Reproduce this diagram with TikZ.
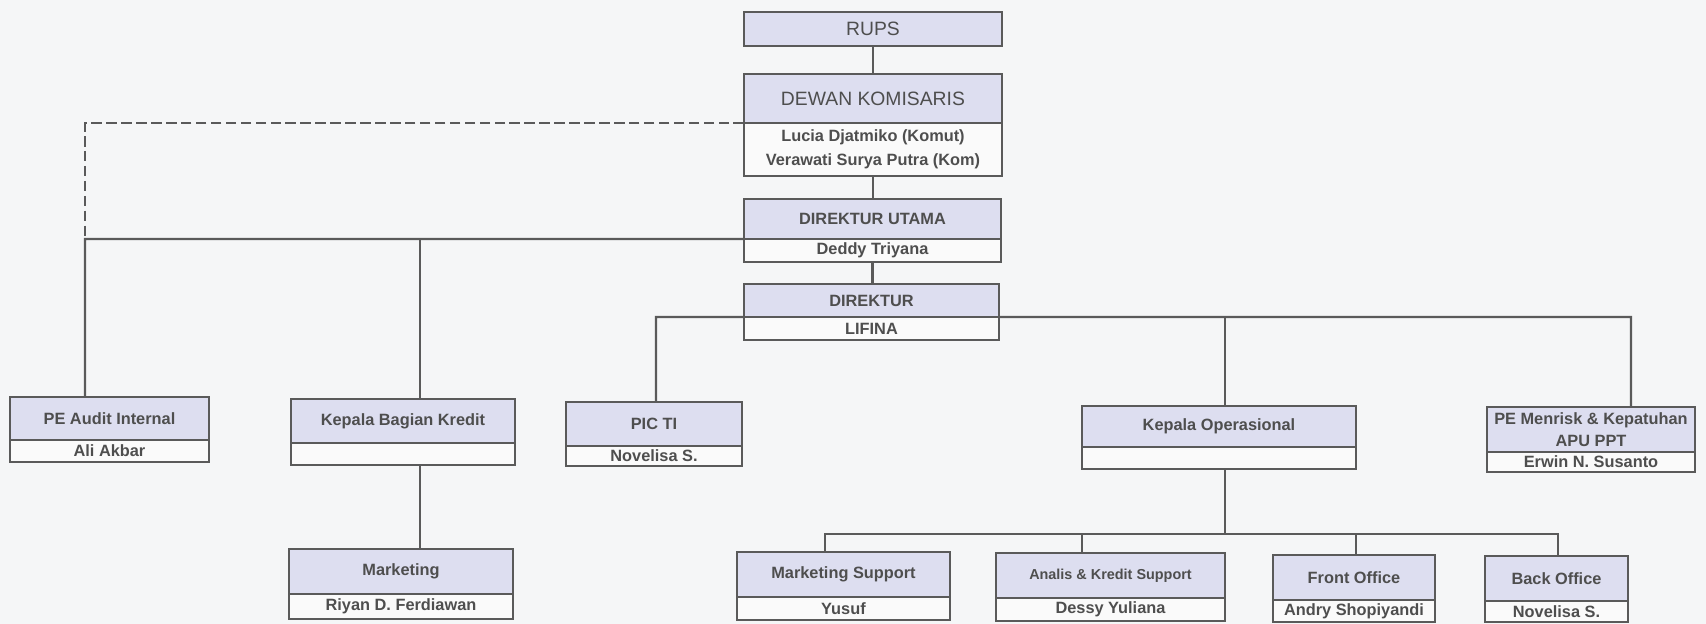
\documentclass[tikz,border=0pt]{standalone}
\usepackage{fontspec}
\setmainfont{Liberation Sans}
\usepackage{xcolor}
\definecolor{lineGray}{HTML}{5A5A5A}
\definecolor{textGray}{HTML}{4E4E4E}
\definecolor{headFill}{HTML}{DDDEF0}
\definecolor{nameFill}{HTML}{FAFAFA}
\definecolor{pageBg}{HTML}{F5F6F7}
\usepackage{tikz}
\usetikzlibrary{positioning}
\tikzset{%
  headBox/.style={%
    rectangle,
    draw=lineGray,
    line width=1.3pt,
    fill=headFill,
    anchor=north west,
    inner sep=0pt,
    outer sep=0pt,
    align=center,
    text=textGray,
    font=\fontsize{9.3}{12.5}\selectfont\bfseries
  },
  nameBox/.style={%
    headBox,
    fill=nameFill,
    font=\fontsize{9.3}{13.6}\selectfont\bfseries
  },
  bigLabel/.style={%
    font=\fontsize{11}{13}\selectfont
  },
  orgLine/.style={%
    draw=lineGray,
    line width=1.3pt
  },
  dashLine/.style={%
    orgLine,
    dash pattern=on 6pt off 2.5pt
  }
}
\begin{document}
\begin{tikzpicture}[x=0.02cm, y=-0.02cm]
            \fill[pageBg] (0,0) rectangle (1706,624);
            \useasboundingbox (0,0) rectangle (1706,624);

            % top stack
            \node[headBox, bigLabel, minimum width=5.16cm, minimum height=0.68cm] (rups) at (744,12) {RUPS};
            \node[headBox, bigLabel, minimum width=5.16cm, minimum height=0.98cm] (kom) at (744,74) {DEWAN KOMISARIS};
            \node[nameBox, minimum width=5.16cm, minimum height=1.06cm, below=0pt of kom] (komN)
            {Lucia Djatmiko (Komut)\\Verawati Surya Putra (Kom)};
            \node[headBox, minimum width=5.14cm, minimum height=0.80cm] (dirut) at (744,199) {DIREKTUR UTAMA};
            \node[nameBox, minimum width=5.14cm, minimum height=0.46cm, below=0pt of dirut] (dirutN) {Deddy Triyana};
            \node[headBox, minimum width=5.10cm, minimum height=0.66cm] (dir) at (744,284) {DIREKTUR};
            \node[nameBox, minimum width=5.10cm, minimum height=0.46cm, below=0pt of dir] (dirN) {LIFINA};

            % second row
            \node[headBox, minimum width=3.98cm, minimum height=0.86cm] (audit) at (10,397) {PE Audit Internal};
            \node[nameBox, minimum width=3.98cm, minimum height=0.44cm, below=0pt of audit] (auditN) {Ali Akbar};
            \node[headBox, minimum width=4.48cm, minimum height=0.88cm] (kbk) at (291,399) {Kepala Bagian Kredit};
            \node[nameBox, minimum width=4.48cm, minimum height=0.44cm, below=0pt of kbk] (kbkN) {};
            \node[headBox, minimum width=3.52cm, minimum height=0.88cm] (pic) at (566,402) {PIC TI};
            \node[nameBox, minimum width=3.52cm, minimum height=0.40cm, below=0pt of pic] (picN) {Novelisa S.};
            \node[headBox, minimum width=5.48cm, minimum height=0.82cm] (kops) at (1082,406) {Kepala Operasional};
            \node[nameBox, minimum width=5.48cm, minimum height=0.44cm, below=0pt of kops] (kopsN) {};
            \node[headBox, minimum width=4.16cm, minimum height=0.90cm] (risk) at (1487,407) {PE Menrisk \& Kepatuhan\\APU PPT};
            \node[nameBox, minimum width=4.16cm, minimum height=0.40cm, below=0pt of risk] (riskN) {Erwin N. Susanto};

            % third row
            \node[headBox, minimum width=4.48cm, minimum height=0.90cm] (mkt) at (289,549) {Marketing};
            \node[nameBox, minimum width=4.48cm, minimum height=0.50cm, below=0pt of mkt] (mktN) {Riyan D. Ferdiawan};
            \node[headBox, minimum width=4.26cm, minimum height=0.90cm] (msup) at (737,552) {Marketing Support};
            \node[nameBox, minimum width=4.26cm, minimum height=0.46cm, below=0pt of msup] (msupN) {Yusuf};
            \node[headBox, minimum width=4.58cm, minimum height=0.90cm, font=\fontsize{8.2}{10}\selectfont\bfseries] (analis) at (996,553) {Analis \& Kredit Support};
            \node[nameBox, minimum width=4.58cm, minimum height=0.46cm, below=0pt of analis] (analisN) {Dessy Yuliana};
            \node[headBox, minimum width=3.24cm, minimum height=0.90cm] (front) at (1273,555) {Front Office};
            \node[nameBox, minimum width=3.24cm, minimum height=0.44cm, below=0pt of front] (frontN) {Andry Shopiyandi};
            \node[headBox, minimum width=2.86cm, minimum height=0.90cm] (back) at (1485,556) {Back Office};
            \node[nameBox, minimum width=2.86cm, minimum height=0.42cm, below=0pt of back] (backN) {Novelisa S.};

            % connectors
            \draw[orgLine] (rups.south) -- (kom.north);
            \draw[orgLine] (komN.south) -- (komN.south |- dirut.north);
            \draw[orgLine] (dirutN.south) -- (dirutN.south |- dir.north);

            \coordinate (tapAudit) at (85,239);
            \coordinate (tapKbk) at (420,239);
            \draw[orgLine] (dirut.south west) -- (tapAudit) -- (tapAudit |- audit.north);
            \draw[orgLine] (tapKbk) -- (tapKbk |- kbk.north);
            \draw[dashLine] (kom.south west) -| (tapAudit);
            \draw[orgLine] (tapKbk |- kbkN.south) -- (tapKbk |- mkt.north);

            \coordinate (tapPic) at (656,317);
            \coordinate (tapKops) at (1225,317);
            \coordinate (tapRisk) at (1631,317);
            \draw[orgLine] (dir.south west) -- (tapPic) -- (tapPic |- pic.north);
            \draw[orgLine] (dir.south east) -- (tapRisk) -- (tapRisk |- risk.north);
            \draw[orgLine] (tapKops) -- (tapKops |- kops.north);

            \coordinate (opsBus) at (1225,534);
            \coordinate (opsLeft) at (825,534);
            \coordinate (opsRight) at (1558,534);
            \draw[orgLine] (tapKops |- kopsN.south) -- (opsBus);
            \draw[orgLine] (opsLeft |- msup.north) -- (opsLeft) -- (opsRight) -- (opsRight |- back.north);
            \foreach \n/\x in {analis/1082, front/1356}
                \draw[orgLine] (\x,534) -- (\x,534 |- \n.north);

        \end{tikzpicture}
\end{document}
